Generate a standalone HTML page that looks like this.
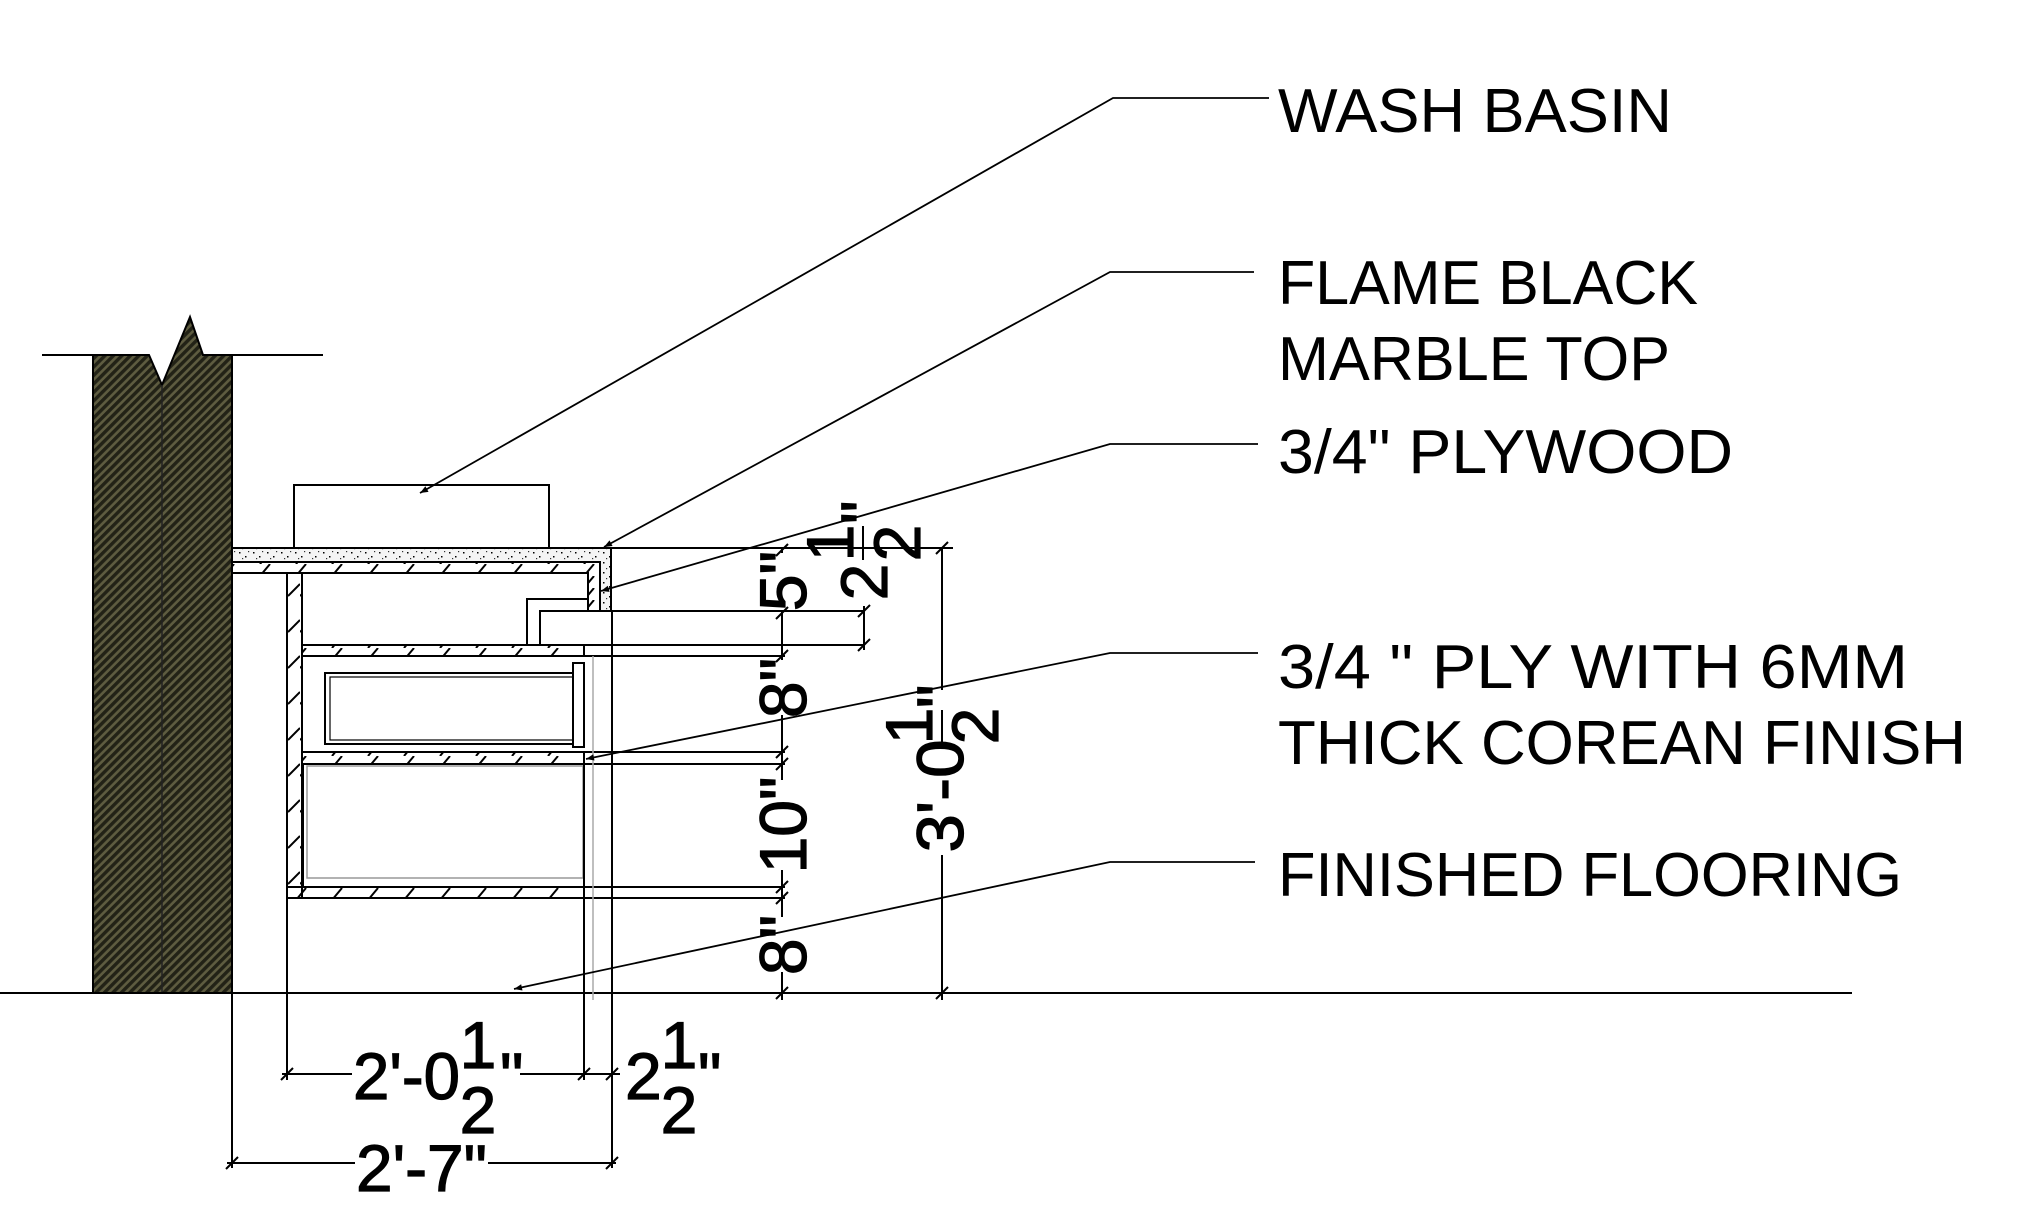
<!DOCTYPE html>
<html><head><meta charset="utf-8"><style>
html,body{margin:0;padding:0;background:#fff;}
svg{display:block;}
text{font-family:"Liberation Sans",sans-serif;fill:#000;}
.lbl{font-size:62px;}
.dim{font-size:66px;stroke:#000;stroke-width:1.2px;}
</style></head><body>
<svg width="2037" height="1216" viewBox="0 0 2037 1216" xmlns="http://www.w3.org/2000/svg">
<defs>
<pattern id="wall" width="6" height="6" patternUnits="userSpaceOnUse" patternTransform="rotate(45)">
<rect width="6" height="6" fill="#5e5c40"/>
<rect width="3.4" height="6" fill="#222216"/>
</pattern>
<pattern id="ply" width="36" height="12" patternUnits="userSpaceOnUse">
<line x1="8" y1="12" x2="18" y2="0" stroke="#000" stroke-width="2"/>
</pattern>
<pattern id="plyv" width="12" height="36" patternUnits="userSpaceOnUse">
<line x1="0" y1="20" x2="12" y2="8" stroke="#000" stroke-width="2"/>
</pattern>
<pattern id="speck" width="14" height="10" patternUnits="userSpaceOnUse">
<rect width="14" height="10" fill="#f4f4f4"/>
<rect x="1" y="2" width="1.5" height="1.5" fill="#000"/>
<rect x="7" y="6" width="1.5" height="1.5" fill="#000"/>
<rect x="10" y="1" width="1.2" height="1.2" fill="#333"/>
<rect x="4" y="8" width="1.2" height="1.2" fill="#333"/>
</pattern>
<marker id="ar" viewBox="0 0 10 10" refX="10" refY="5" markerWidth="14" markerHeight="8" orient="auto-start-reverse" markerUnits="userSpaceOnUse">
<path d="M0,1 L10,5 L0,9 Z" fill="#000"/>
</marker>
</defs>

<g stroke="#000" stroke-width="2" fill="none">
<path d="M93,355 L149,355 L162,385 L190,317 L203,355 L232,355 L232,993 L93,993 Z" fill="url(#wall)" stroke="#000"/>
<line x1="42" y1="355" x2="149" y2="355"/>
<line x1="203" y1="355" x2="323" y2="355"/>
<line x1="162" y1="385" x2="162" y2="993" stroke="#222" stroke-width="1.5"/>
<line x1="0" y1="993" x2="1852" y2="993"/>
<rect x="294" y="485" width="255" height="63" fill="#fff"/>
<path d="M232,548 L611,548 L611,611 L600,611 L600,562 L232,562 Z" fill="url(#speck)"/>
<path d="M232,562 L600,562 L600,611 L588,611 L588,573 L232,573 Z" fill="url(#ply)"/>
<path d="M527,645 L527,599 L588,599 L588,611 L540,611 L540,645" fill="none"/>
<line x1="540" y1="611" x2="864" y2="611"/>
<line x1="527" y1="645" x2="864" y2="645"/>
<line x1="864" y1="606" x2="864" y2="650"/>
<rect x="287" y="573" width="15" height="325" fill="url(#plyv)"/>
<rect x="302" y="645" width="282" height="11" fill="url(#ply)"/>
<line x1="584" y1="656" x2="785" y2="656"/>
<rect x="302" y="752" width="282" height="12" fill="url(#ply)"/>
<line x1="584" y1="752" x2="785" y2="752"/>
<line x1="584" y1="764" x2="785" y2="764"/>
<rect x="287" y="887" width="297" height="11" fill="url(#ply)"/>
<line x1="584" y1="887" x2="785" y2="887"/>
<line x1="287" y1="898" x2="785" y2="898"/>
<rect x="325" y="673" width="248" height="71"/>
<rect x="330" y="677" width="243" height="63" stroke-width="1.2"/>
<rect x="573" y="663" width="11" height="84" fill="#fff"/>
<line x1="303" y1="764" x2="303" y2="887"/>
<rect x="307" y="766" width="276" height="112" stroke="#999" stroke-width="1.5"/>
<line x1="584" y1="764" x2="584" y2="1080"/>
<line x1="593" y1="656" x2="593" y2="1000" stroke="#aaa" stroke-width="1.5"/>
<line x1="612" y1="611" x2="612" y2="1168"/>
<line x1="287" y1="898" x2="287" y2="1080"/>
<line x1="232" y1="993" x2="232" y2="1168"/>
<line x1="611" y1="548" x2="953" y2="548"/>

<line x1="782" y1="548" x2="782" y2="553"/>
<line x1="782" y1="610" x2="782" y2="660"/>
<line x1="782" y1="715" x2="782" y2="780"/>
<line x1="782" y1="870" x2="782" y2="917"/>
<line x1="782" y1="972" x2="782" y2="1000"/>
<line x1="942" y1="548" x2="942" y2="690"/>
<line x1="942" y1="855" x2="942" y2="1000"/>
<line x1="282" y1="1074" x2="352" y2="1074"/>
<line x1="520" y1="1074" x2="620" y2="1074"/>
<line x1="227" y1="1163" x2="355" y2="1163"/>
<line x1="488" y1="1163" x2="616" y2="1163"/>

<g stroke-width="2">
<path d="M776,556 l12,-12 M776,619 l12,-12 M776,662 l12,-12 M776,758 l12,-12 M776,770 l12,-12 M776,893 l12,-12 M776,904 l12,-12 M776,999 l12,-12"/>
<path d="M936,554 l12,-12 M936,999 l12,-12 M858,617 l12,-12 M858,651 l12,-12"/>
<path d="M281,1080 l12,-12 M578,1080 l12,-12 M606,1080 l12,-12 M226,1169 l12,-12 M606,1169 l12,-12"/>
</g>

<g stroke-width="1.8">
<polyline points="1269,98 1113,98 420,493" marker-end="url(#ar)"/>
<polyline points="1254,272 1110,272 604,547" marker-end="url(#ar)"/>
<polyline points="1258,444 1110,444 601,591" marker-end="url(#ar)"/>
<polyline points="1258,653 1110,653 586,759" marker-end="url(#ar)"/>
<polyline points="1255,862 1110,862 514,989" marker-end="url(#ar)"/>
</g>
</g>

<g class="lbl">
<text x="1278" y="132" textLength="394" lengthAdjust="spacingAndGlyphs">WASH BASIN</text>
<text x="1278" y="304" textLength="420" lengthAdjust="spacingAndGlyphs">FLAME BLACK</text>
<text x="1278" y="380" textLength="392" lengthAdjust="spacingAndGlyphs">MARBLE TOP</text>
<text x="1278" y="473" textLength="455" lengthAdjust="spacingAndGlyphs">3/4" PLYWOOD</text>
<text x="1278" y="688" textLength="630" lengthAdjust="spacingAndGlyphs">3/4 " PLY WITH 6MM</text>
<text x="1278" y="764" textLength="688" lengthAdjust="spacingAndGlyphs">THICK COREAN FINISH</text>
<text x="1278" y="896" textLength="624" lengthAdjust="spacingAndGlyphs">FINISHED FLOORING</text>
</g>

<g class="dim">
<text x="353" y="1099" textLength="107" lengthAdjust="spacingAndGlyphs">2'-0</text>
<text x="478" y="1068" text-anchor="middle">1</text>
<text x="478" y="1133" text-anchor="middle">2</text>
<text x="500" y="1099">"</text>
<text x="625" y="1099">2</text>
<text x="679" y="1068" text-anchor="middle">1</text>
<text x="679" y="1133" text-anchor="middle">2</text>
<text x="698" y="1099">"</text>
<text x="356" y="1191" textLength="131" lengthAdjust="spacingAndGlyphs">2'-7"</text>
</g>

<g class="dim">
<g transform="translate(806,581) rotate(-90)"><text x="0" y="0" text-anchor="middle">5"</text></g>
<g transform="translate(806,688) rotate(-90)"><text x="0" y="0" text-anchor="middle">8"</text></g>
<g transform="translate(806,825) rotate(-90)"><text x="0" y="0" text-anchor="middle">10"</text></g>
<g transform="translate(806,945) rotate(-90)"><text x="0" y="0" text-anchor="middle">8"</text></g>
<g transform="translate(887,582) rotate(-90)">
<text x="0" y="0" text-anchor="middle">2</text>
<text x="39" y="-34" text-anchor="middle">1</text>
<text x="39" y="33" text-anchor="middle">2</text>
<line x1="22" y1="-24" x2="56" y2="-24" stroke="#000" stroke-width="2"/>
<text x="58" y="0">"</text>
</g>
<g transform="translate(963,796) rotate(-90)">
<text x="0" y="0" text-anchor="middle" textLength="113" lengthAdjust="spacingAndGlyphs">3'-0</text>
<text x="70" y="-31" text-anchor="middle">1</text>
<text x="70" y="35" text-anchor="middle">2</text>
<line x1="54" y1="-21" x2="86" y2="-21" stroke="#000" stroke-width="2"/>
<text x="88" y="0">"</text>
</g>
</g>
</svg>
</body></html>
